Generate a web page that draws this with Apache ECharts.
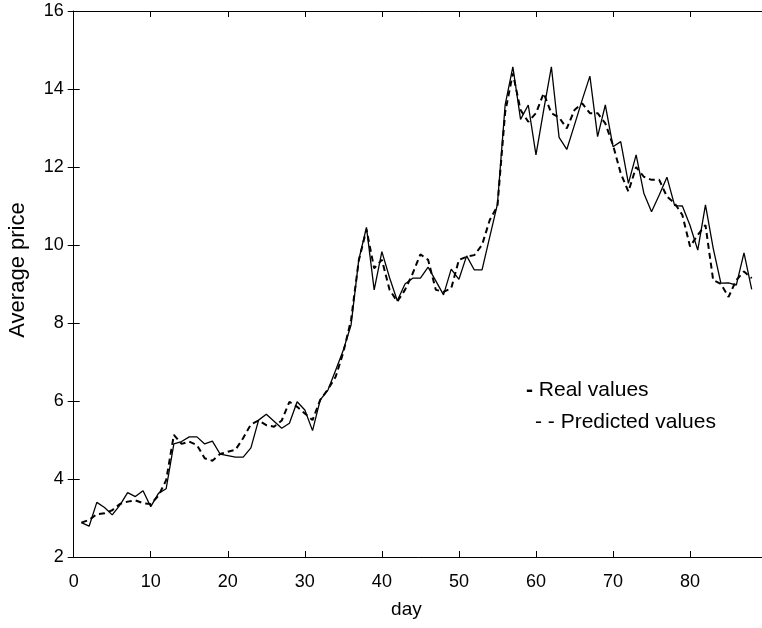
<!DOCTYPE html>
<html>
<head>
<meta charset="utf-8">
<script src="https://cdn.jsdelivr.net/npm/echarts@6/dist/echarts.min.js"></script>
<style>
html,body{margin:0;padding:0;background:#fff;overflow:hidden;}
#chart{width:762px;height:628px;}
</style>
</head>
<body>
<div id="chart"></div>
<script>
// Data
const realValues = [
  2.88, 2.79, 3.40, 3.27, 3.08, 3.33, 3.65, 3.55, 3.70, 3.29,
  3.63, 3.75, 4.90, 4.96, 5.08, 5.08, 4.90, 4.97, 4.64, 4.60,
  4.56, 4.56, 4.80, 5.51, 5.66, 5.48, 5.30, 5.43, 5.98, 5.77,
  5.24, 6.03, 6.28, 6.79, 7.31, 7.95, 9.62, 10.45, 8.85, 9.83,
  9.16, 8.57, 9.00, 9.15, 9.15, 9.43, 9.08, 8.72, 9.38, 9.12,
  9.72, 9.36, 9.36, 10.21, 11.05, 13.59, 14.57, 13.22, 13.59, 12.31,
  13.46, 14.57, 12.76, 12.45, 13.08, 13.72, 14.33, 12.78, 13.59, 12.52,
  12.65, 11.58, 12.31, 11.33, 10.85, 11.28, 11.74, 11.01, 11.00, 10.50,
  9.87, 11.03, 9.92, 9.02, 9.03, 8.97, 9.80, 8.86
];
const predictedValues = [
  2.88, 2.95, 3.10, 3.12, 3.20, 3.36, 3.42, 3.45, 3.38, 3.36,
  3.57, 3.97, 5.13, 4.90, 4.96, 4.87, 4.53, 4.47, 4.64, 4.70,
  4.75, 5.05, 5.40, 5.50, 5.38, 5.34, 5.50, 5.98, 5.85, 5.68,
  5.51, 6.03, 6.30, 6.62, 7.25, 8.08, 9.60, 10.40, 9.40, 9.62,
  8.85, 8.55, 8.85, 9.27, 9.76, 9.62, 8.85, 8.80, 8.89, 9.62,
  9.70, 9.74, 10.00, 10.64, 11.00, 13.40, 14.40, 13.46, 13.16, 13.38,
  13.89, 13.38, 13.27, 12.99, 13.46, 13.63, 13.38, 13.38, 13.12, 12.56,
  11.84, 11.37, 12.00, 11.75, 11.67, 11.67, 11.24, 11.07, 10.77, 9.96,
  10.26, 10.51, 9.10, 9.00, 8.67, 9.10, 9.32, 9.15
];
const days = realValues.map((_, i) => i + 1);
const xTicks = { min: 0, max: 90, interval: 10 };
const yTicks = { min: 2, max: 16, interval: 2 };

const FONT = "'Liberation Sans', Arial, sans-serif";
const realData = days.map((d, i) => [d, realValues[i]]);
const predData = days.map((d, i) => [d, predictedValues[i]]);

const axisLine = { show: true, lineStyle: { color: '#000', width: 1 } };
const tick = { show: true, inside: true, length: 6, lineStyle: { color: '#000', width: 1 } };

const chart = echarts.init(document.getElementById('chart'), null, { renderer: 'canvas' });
chart.setOption({
  animation: false,
  backgroundColor: '#fff',
  grid: { left: 73.7, width: 693.4, top: 11, height: 546, containLabel: false, outerBoundsMode: 'none' },
  legend: [
    {
      data: ['Real values'], icon: 'none', itemWidth: 0, itemHeight: 14, padding: 0,
      left: 521, top: 378, orient: 'vertical', selectedMode: false,
      formatter: () => '{d|-} Real values',
      textStyle: { fontFamily: FONT, fontSize: 21, color: '#000', lineHeight: 24,
        rich: { d: { fontFamily: FONT, fontSize: 21, fontWeight: 'bold', color: '#000', lineHeight: 24 } } }
    },
    {
      data: ['Predicted values'], icon: 'none', itemWidth: 0, itemHeight: 14, padding: 0,
      left: 530, top: 410, orient: 'vertical', selectedMode: false,
      formatter: () => '- - Predicted values',
      textStyle: { fontFamily: FONT, fontSize: 21, color: '#000', lineHeight: 24 }
    }
  ],
  xAxis: [
    {
      type: 'value', position: 'bottom', min: xTicks.min, max: xTicks.max, interval: xTicks.interval,
      name: 'day', nameLocation: 'middle', nameGap: 43,
      nameTextStyle: { fontFamily: FONT, fontSize: 19, color: '#000', padding: [0, 28, 0, 0] },
      axisLine, axisTick: tick, splitLine: { show: false },
      axisLabel: { fontFamily: FONT, fontSize: 18, color: '#000', margin: 16, showMaxLabel: false }
    },
    {
      type: 'value', position: 'top', min: xTicks.min, max: xTicks.max, interval: xTicks.interval,
      axisLine, axisTick: tick, splitLine: { show: false }, axisLabel: { show: false }
    }
  ],
  yAxis: [
    {
      type: 'value', position: 'left', min: yTicks.min, max: yTicks.max, interval: yTicks.interval,
      name: 'Average price', nameLocation: 'middle', nameGap: 45,
      nameTextStyle: { fontFamily: FONT, fontSize: 22, color: '#000', padding: [0, 0, 0, 28] },
      axisLine, axisTick: tick, splitLine: { show: false },
      axisLabel: { fontFamily: FONT, fontSize: 18, color: '#000', margin: 10 }
    },
    {
      type: 'value', position: 'right', min: yTicks.min, max: yTicks.max, interval: yTicks.interval,
      axisLine: { show: false }, axisTick: tick, splitLine: { show: false }, axisLabel: { show: false }
    }
  ],
  series: [
    {
      name: 'Real values', type: 'line', xAxisIndex: 0, yAxisIndex: 0,
      data: realData, showSymbol: false, symbol: 'none',
      lineStyle: { color: '#000', width: 1.3, type: 'solid' }, itemStyle: { color: '#000' }
    },
    {
      name: 'Predicted values', type: 'line', xAxisIndex: 0, yAxisIndex: 0,
      data: predData, showSymbol: false, symbol: 'none',
      lineStyle: { color: '#000', width: 2, type: [6, 4] }, itemStyle: { color: '#000' }
    }
  ]
});
</script>
</body>
</html>
